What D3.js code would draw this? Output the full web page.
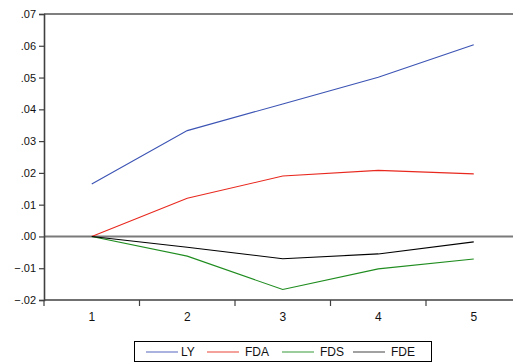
<!DOCTYPE html>
<html>
<head>
<meta charset="utf-8">
<script src="https://cdn.jsdelivr.net/npm/d3@7"></script>
<style>
  body { margin: 0; background: #fff; }
  svg { display: block; font-family: "Liberation Sans", Arial, sans-serif; }
</style>
</head>
<body>
<svg id="svg" width="513" height="363"></svg>
<script>
var periods = [1, 2, 3, 4, 5];
var LY  = [0.0165, 0.0333, 0.0417, 0.0501, 0.0603];
var FDA = [0.0000, 0.0120, 0.0190, 0.0208, 0.0197];
var FDS = [0.0000, -0.0062, -0.0167, -0.0102, -0.0071];
var FDE = [0.0000, -0.0034, -0.0070, -0.0055, -0.0017];
var yTicks = [-0.02, -0.01, 0, 0.01, 0.02, 0.03, 0.04, 0.05, 0.06, 0.07];
var seriesNames = ["LY", "FDA", "FDS", "FDE"];
var seriesColors = ["#3c54b4", "#e8281e", "#1e8c1e", "#000000"];
var seriesData = [LY, FDA, FDS, FDE];

var plotLeft = 44, plotTop = 14, plotBottom = 300, plotRight = 521.5;
var svg = d3.select("#svg");

var x = d3.scaleBand().domain(periods).range([plotLeft, plotRight]);
var y = d3.scaleLinear().domain([-0.02, 0.07]).range([plotBottom, plotTop]);

function fmt(v){
  var s = d3.format(".2f")(Math.abs(v) < 1e-9 ? 0 : v);
  return s.replace("0.", ".");
}

// frame
svg.append("line").attr("x1", plotLeft).attr("x2", plotRight).attr("y1", plotTop).attr("y2", plotTop)
  .attr("stroke", "#000").attr("stroke-width", 1.2);

// zero line
svg.append("line").attr("x1", plotLeft).attr("x2", plotRight).attr("y1", y(0)).attr("y2", y(0))
  .attr("stroke", "#7a7a7a").attr("stroke-width", 2);

// y axis
var yAxis = svg.append("g").attr("transform", "translate(" + plotLeft + ",0)")
  .call(d3.axisLeft(y).tickValues(yTicks).tickSize(5).tickPadding(3).tickFormat(fmt));
yAxis.select(".domain").attr("stroke", "#404040").attr("stroke-width", 1.6);
yAxis.selectAll(".tick line").attr("stroke", "#404040").attr("stroke-width", 1.2);
yAxis.selectAll("text").attr("font-size", 11).attr("fill", "#111").attr("font-family", "Liberation Sans, Arial, sans-serif");

// x axis (ticks at category boundaries)
var xAxis = svg.append("g").attr("transform", "translate(0," + plotBottom + ")");
xAxis.append("line").attr("x1", plotLeft).attr("x2", plotRight).attr("stroke", "#404040").attr("stroke-width", 1.6);
xAxis.selectAll(".xt").data(periods.slice(1)).enter().append("line")
  .attr("x1", function(d){ return x(d); }).attr("x2", function(d){ return x(d); })
  .attr("y1", 0).attr("y2", 6).attr("stroke", "#404040").attr("stroke-width", 1.2);
xAxis.append("line").attr("x1", plotLeft).attr("x2", plotLeft).attr("y1", 0).attr("y2", 6)
  .attr("stroke", "#404040").attr("stroke-width", 1.2);
xAxis.selectAll(".xl").data(periods).enter().append("text")
  .attr("x", function(d){ return x(d) + x.bandwidth() / 2; })
  .attr("y", 21).attr("text-anchor", "middle").attr("font-size", 12).attr("fill", "#111")
  .text(function(d){ return d; });

// series lines
var line = d3.line()
  .x(function(d, i){ return x(periods[i]) + x.bandwidth() / 2; })
  .y(function(d){ return y(d); });
seriesData.forEach(function(s, k){
  svg.append("path").datum(s).attr("d", line).attr("fill", "none")
    .attr("stroke", seriesColors[k]).attr("stroke-width", 1.1);
});

// legend
var lg = svg.append("g");
lg.append("rect").attr("x", 134.5).attr("y", 341.5).attr("width", 297).attr("height", 20)
  .attr("fill", "#fff").attr("stroke", "#000").attr("stroke-width", 1);
var lineStarts = [146, 207, 282, 353];
var textStarts = [181, 245, 320, 391];
seriesNames.forEach(function(n, k){
  lg.append("line").attr("x1", lineStarts[k]).attr("x2", lineStarts[k] + 32)
    .attr("y1", 352).attr("y2", 352).attr("stroke", k == 3 ? "#555" : seriesColors[k]).attr("stroke-width", 1.1)
    .attr("opacity", k == 3 ? 1 : 0.8);
  lg.append("text").attr("x", textStarts[k]).attr("y", 356).attr("font-size", 12).attr("fill", "#111").text(n);
});
</script>
</body>
</html>
